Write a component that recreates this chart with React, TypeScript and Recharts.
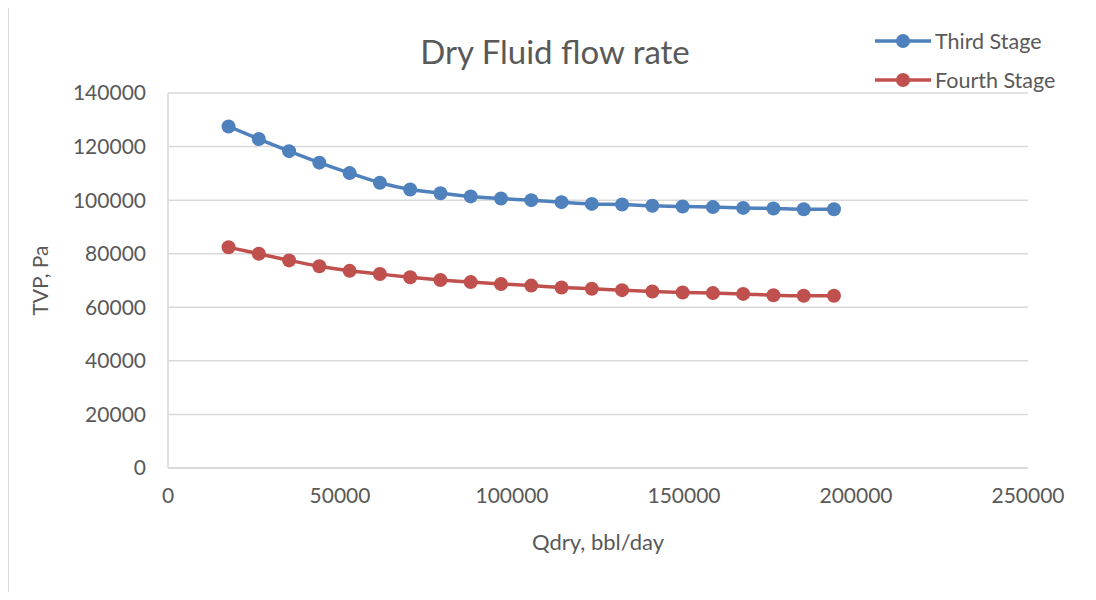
import { LineChart, Line, XAxis, YAxis, CartesianGrid, Label } from "recharts";

const QDRY = [
  17600, 26400, 35200, 44000, 52800, 61600, 70400, 79200, 88000, 96800, 105600,
  114400, 123200, 132000, 140800, 149600, 158400, 167200, 176000, 184800, 193600,
];
const THIRD = [
  127500, 122800, 118300, 114000, 110100, 106500, 104000, 102600, 101400, 100600, 100000,
  99250, 98600, 98400, 97900, 97600, 97400, 97100, 96900, 96600, 96600,
];
const FOURTH = [
  82400, 80000, 77500, 75300, 73600, 72400, 71200, 70200, 69400, 68700, 68100,
  67400, 66900, 66400, 65900, 65500, 65300, 65000, 64500, 64300, 64300,
];
const SERIES_NAMES = ["Third Stage", "Fourth Stage"];
const X_TICKS = [0, 50000, 100000, 150000, 200000, 250000];
const Y_TICKS = [0, 20000, 40000, 60000, 80000, 100000, 120000, 140000];

const BLUE = "#4f81bd";
const RED = "#c0504d";
const COLORS = [BLUE, RED];
const TEXT = "#595959";
const GRID = "#d9d9d9";
const FONT = "Lato, 'Open Sans', sans-serif";

const data = QDRY.map((q, i) => ({ q, third: THIRD[i], fourth: FOURTH[i] }));

function LegendBox() {
  return (
    <div style={{ position: "absolute", left: 867, top: 13, fontFamily: FONT, zIndex: 2 }}>
      {SERIES_NAMES.map((name, i) => (
        <div key={name} style={{ display: "flex", alignItems: "center", height: 39 }}>
          <svg width={56} height={16}>
            <line x1={0} y1={8} x2={56} y2={8} stroke={COLORS[i]} strokeWidth={3.5} />
            <circle cx={28} cy={8} r={7} fill={COLORS[i]} />
          </svg>
          <span style={{ marginLeft: 4, fontSize: 21.5, color: TEXT }}>{name}</span>
        </div>
      ))}
    </div>
  );
}

export default function App() {
  return (
    <div style={{ position: "relative", width: 1088, height: 584, fontFamily: FONT }}>
      <div
        style={{
          position: "absolute",
          left: -1,
          top: -2,
          width: 1089,
          height: 586,
          boxSizing: "border-box",
          borderLeft: `2px solid ${GRID}`,
          borderTop: `2px solid ${GRID}`,
          zIndex: 3,
          pointerEvents: "none",
        }}
      />
      <div
        style={{
          position: "absolute",
          left: 0,
          width: 1094,
          top: 23,
          textAlign: "center",
          fontSize: 33,
          color: TEXT,
          pointerEvents: "none",
          zIndex: 2,
        }}
      >
        Dry Fluid flow rate
      </div>
      <LegendBox />
      <LineChart
        width={1088}
        height={584}
        data={data}
        margin={{ top: 85, right: 68, left: 80, bottom: 34 }}
      >
        <CartesianGrid vertical={false} stroke={GRID} strokeWidth={1.5} />
        <XAxis
          type="number"
          dataKey="q"
          domain={[0, 250000]}
          ticks={X_TICKS}
          interval={0}
          tickLine={false}
          tickMargin={14}
          axisLine={{ stroke: GRID, strokeWidth: 1.5 }}
          tick={{ fill: TEXT, fontSize: 21, fontFamily: FONT }}
          height={90}
        >
          <Label
            content={(p: any) => {
              const vb = p.viewBox;
              const cx = vb.x + vb.width / 2;
              return (
                <text
                  x={cx}
                  y={vb.y + 82}
                  textAnchor="middle"
                  fill={TEXT}
                  fontSize={22}
                  fontFamily={FONT}
                >
                  Qdry, bbl/day
                </text>
              );
            }}
          />
        </XAxis>
        <YAxis
          type="number"
          domain={[0, 140000]}
          ticks={Y_TICKS}
          interval={0}
          tickLine={false}
          tickMargin={16}
          axisLine={{ stroke: GRID, strokeWidth: 1.5 }}
          tick={{ fill: TEXT, fontSize: 21, fontFamily: FONT }}
          width={80}
        >
          <Label
            content={(p: any) => {
              const vb = p.viewBox;
              const cy = vb.y + vb.height / 2;
              return (
                <text
                  x={0}
                  y={0}
                  transform={`translate(${40},${cy}) rotate(-90)`}
                  textAnchor="middle"
                  fill={TEXT}
                  fontSize={21}
                  fontFamily={FONT}
                >
                  TVP, Pa
                </text>
              );
            }}
          />
        </YAxis>
        <Line
          name={SERIES_NAMES[0]}
          dataKey="third"
          type="monotone"
          stroke={BLUE}
          strokeWidth={3.5}
          dot={{ r: 7, fill: BLUE, stroke: "none" }}
          activeDot={false}
          isAnimationActive={false}
        />
        <Line
          name={SERIES_NAMES[1]}
          dataKey="fourth"
          type="monotone"
          stroke={RED}
          strokeWidth={3.5}
          dot={{ r: 7, fill: RED, stroke: "none" }}
          activeDot={false}
          isAnimationActive={false}
        />
      </LineChart>
    </div>
  );
}
